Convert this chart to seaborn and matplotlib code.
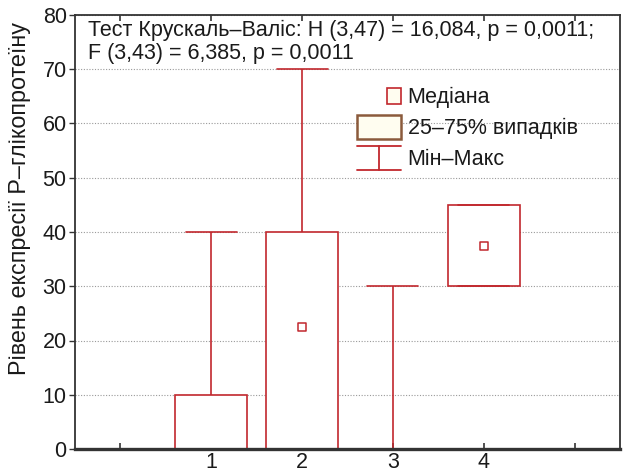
import matplotlib
matplotlib.use("Agg")
import matplotlib.pyplot as plt
import numpy as np
import pandas as pd
import seaborn as sns
from matplotlib.lines import Line2D
from matplotlib.patches import Rectangle, Patch
from matplotlib.legend_handler import HandlerBase

# ---- data (five-number summaries) ----
groups = [1, 2, 3, 4]
mins = [0, 0, 0, 30]
q1s = [0, 0, 0, 30]
medians = [0, 22.5, 0, 37.5]
q3s = [10, 40, 0, 45]
maxs = [40, 70, 30, 45]

x_ticks = [0, 1, 2, 3, 4, 5]
x_ticklabels = ["", "1", "2", "3", "4", ""]
y_ticks = [0, 10, 20, 30, 40, 50, 60, 70, 80]

title_lines = ["Тест Крускаль–Валіс: H (3,47) = 16,084, p = 0,0011;",
               "F (3,43) = 6,385, p = 0,0011"]
y_label = "Рівень експресії Р–глікопротеїну"
legend_labels = ["Медіана", "25–75% випадків", "Мін–Макс"]

# long table: the 5 summary values per group give exactly these quartiles
rows = []
for g, a, b, c, d, e in zip(groups, mins, q1s, medians, q3s, maxs):
    for v in (a, b, c, d, e):
        rows.append({"group": g, "value": v})
df = pd.DataFrame(rows)
med_df = pd.DataFrame({"group": groups, "median": medians, "min": mins})
# medians lying on the axis line are hidden by the axis in the reference
med_vis = med_df[med_df["median"] > med_df["min"]]

RED = "#c1272d"
BROWN = "#8b5a3c"
CREAM = "#fffdf0"
FRAME = "#333333"

sns.set_theme(style="white")
plt.rcParams["font.family"] = ["Liberation Sans", "DejaVu Sans"]
FS = 15.5

fig = plt.figure(figsize=(6.31, 4.72), dpi=100)
ax = fig.add_axes([75 / 631, 1 - 449 / 472, 545 / 631, 434 / 472])

sns.boxplot(data=df, x="group", y="value", native_scale=True, whis=(0, 100),
            width=0.79, color="white", linecolor=RED, linewidth=1.2,
            showfliers=False, medianprops={"visible": False},
            capwidths=0.56, ax=ax)

sns.scatterplot(data=med_vis, x="group", y="median", marker="s", s=26,
                facecolor="white", edgecolor=RED, linewidth=1.1, zorder=6,
                ax=ax, legend=False)

ax.set_xlim(-0.5, 5.5)
ax.set_ylim(0, 80)
ax.set_xticks(x_ticks)
ax.set_xticklabels(x_ticklabels, fontsize=FS, color="#1a1a1a")
ax.set_yticks(y_ticks)
ax.set_yticklabels([str(v) for v in y_ticks], fontsize=FS, color="#1a1a1a")
ax.set_xlabel("")
ax.set_ylabel(y_label, fontsize=16.8, color="#1a1a1a")
ax.yaxis.set_label_coords(-0.08, 0.578)

ax.set_axisbelow(True)
ax.yaxis.grid(True, linestyle=(0, (1, 1.5)), color="#9a9a9a", linewidth=0.8)
ax.xaxis.grid(False)

for side, sp in ax.spines.items():
    sp.set_visible(True)
    sp.set_color(FRAME)
    sp.set_linewidth(1.3)
ax.spines["bottom"].set_linewidth(2.4)

ax.tick_params(axis="x", direction="in", top=True, bottom=True, length=4,
               width=1.2, color=FRAME, pad=2.5)
ax.tick_params(axis="y", direction="out", left=True, length=4, width=1.0,
               color=FRAME, pad=2)

fig.text(88 / 631, 1 - 30 / 472, title_lines[0],
         fontsize=FS, va="center", ha="left", color="#1a1a1a")
fig.text(88 / 631, 1 - 54 / 472, title_lines[1],
         fontsize=FS, va="center", ha="left", color="#1a1a1a")


class MedianHandler(HandlerBase):
    def create_artists(self, legend, orig_handle, xdescent, ydescent,
                       width, height, fontsize, trans):
        w = width * 0.32
        h = height * 0.68
        r = Rectangle((width - w - xdescent, (height - h) / 2 - ydescent), w, h,
                      facecolor=CREAM, edgecolor=RED, linewidth=1.2,
                      transform=trans)
        return [r]


class BoxHandler(HandlerBase):
    def create_artists(self, legend, orig_handle, xdescent, ydescent,
                       width, height, fontsize, trans):
        r = Rectangle((-xdescent, -ydescent), width, height,
                      facecolor=CREAM, edgecolor=BROWN, linewidth=1.8,
                      transform=trans)
        return [r]


class MinMaxHandler(HandlerBase):
    def create_artists(self, legend, orig_handle, xdescent, ydescent,
                       width, height, fontsize, trans):
        x0, x1 = -xdescent, width - xdescent
        y0, y1 = -ydescent, height - ydescent
        cx = (x0 + x1) / 2
        arts = [Line2D([x0, x1], [y0, y0], color=RED, lw=1.3, transform=trans),
                Line2D([x0, x1], [y1, y1], color=RED, lw=1.3, transform=trans),
                Line2D([cx, cx], [y0, y1], color=RED, lw=1.3, transform=trans)]
        return arts


h_med = Line2D([], [])
h_box = Patch()
h_mm = Line2D([], [], color=RED)
leg = ax.legend([h_med, h_box, h_mm], legend_labels,
                handler_map={h_med: MedianHandler(), h_box: BoxHandler(),
                             h_mm: MinMaxHandler()},
                loc="upper left", bbox_to_anchor=(357 / 631, 1 - 84 / 472),
                bbox_transform=fig.transFigure, frameon=False,
                fontsize=FS, handlelength=2.05, handleheight=1.34,
                handletextpad=0.3, labelspacing=0.32, borderpad=0,
                borderaxespad=0)
for t in leg.get_texts():
    t.set_color("#1a1a1a")

fig.savefig("out.png", dpi=100)
